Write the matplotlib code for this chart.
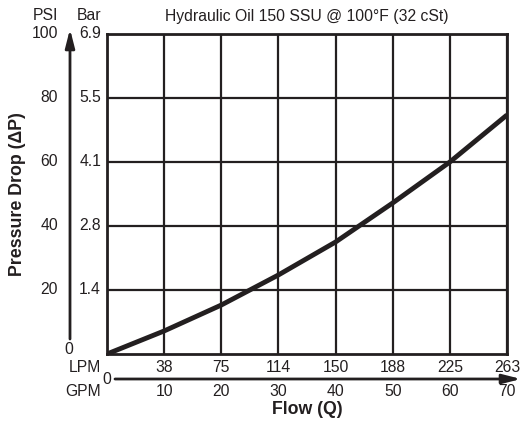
import matplotlib
matplotlib.use("Agg")
import matplotlib.pyplot as plt

plt.rcParams["font.family"] = ["Liberation Sans", "DejaVu Sans"]

# curve
flow_gpm = [0, 10, 20, 30, 40, 50, 60, 70]
drop_psi = [0, 7.2, 15.3, 24.7, 35.0, 47.2, 60.0, 74.7]

gpm_ticks = [10, 20, 30, 40, 50, 60, 70]
lpm_labels = ["38", "75", "114", "150", "188", "225", "263"]
psi_ticks = [20, 40, 60, 80, 100]
bar_labels = ["1.4", "2.8", "4.1", "5.5", "6.9"]

W, H = 522, 422
ink = "#231f20"
fs = 11.3
fsb = 12.8

fig = plt.figure(figsize=(W / 100, H / 100), dpi=100)
L, R, T, B = 107, 507, 34, 354
ax = fig.add_axes([L / W, 1 - B / H, (R - L) / W, (B - T) / H])
ax.set_xlim(0, 70)
ax.set_ylim(0, 100)
ax.set_xticks(gpm_ticks)
ax.set_yticks(psi_ticks)
ax.tick_params(length=0, labelbottom=False, labelleft=False)
ax.grid(True, color=ink, lw=1.6)
for s in ax.spines.values():
    s.set_color(ink)
    s.set_linewidth(2)
ax.plot(flow_gpm, drop_psi, color=ink, lw=3.5, solid_capstyle="butt", zorder=5)


def fy(y):
    return H - y


px = "figure pixels"
arrow = dict(arrowstyle="-|>,head_length=1.1,head_width=0.28",
             color=ink, lw=2, shrinkA=0, shrinkB=0)

# left scales
for v, lab in zip(psi_ticks, bar_labels):
    yp = ax.transData.transform((0, v))[1]
    fig.text(58 / W, yp / H, str(v), ha="right", va="center", fontsize=fs, color=ink)
    fig.text(101 / W, yp / H, lab, ha="right", va="center", fontsize=fs, color=ink)
fig.text(69 / W, fy(350) / H, "0", ha="center", va="center", fontsize=fs, color=ink)
fig.text(58 / W, fy(16) / H, "PSI", ha="right", va="center", fontsize=fs, color=ink)
fig.text(101 / W, fy(16) / H, "Bar", ha="right", va="center", fontsize=fs, color=ink)
fig.text(307 / W, fy(16) / H, "Hydraulic Oil 150 SSU @ 100°F (32 cSt)",
         ha="center", va="center", fontsize=fs, color=ink)

ax.annotate("", xy=(70, fy(29)), xytext=(70, fy(339)), xycoords=px, textcoords=px,
            arrowprops=arrow)
fig.text(18 / W, fy(194) / H, "Pressure Drop (ΔP)", rotation=90, ha="center",
         va="center", fontsize=fsb, fontweight="bold", color=ink)

# bottom scales
for v, lab in zip(gpm_ticks, lpm_labels):
    xp = ax.transData.transform((v, 0))[0]
    fig.text(xp / W, fy(368) / H, lab, ha="center", va="center", fontsize=fs, color=ink)
    fig.text(xp / W, fy(392) / H, str(v), ha="center", va="center", fontsize=fs, color=ink)
fig.text(101 / W, fy(368) / H, "LPM", ha="right", va="center", fontsize=fs, color=ink)
fig.text(101 / W, fy(392) / H, "GPM", ha="right", va="center", fontsize=fs, color=ink)
fig.text(107 / W, fy(380) / H, "0", ha="center", va="center", fontsize=fs, color=ink)
ax.annotate("", xy=(521, fy(379)), xytext=(115, fy(379)), xycoords=px, textcoords=px,
            arrowprops=arrow)
fig.text(307 / W, fy(410) / H, "Flow (Q)", ha="center", va="center", fontsize=fsb,
         fontweight="bold", color=ink)

fig.savefig("out.png", dpi=100)
